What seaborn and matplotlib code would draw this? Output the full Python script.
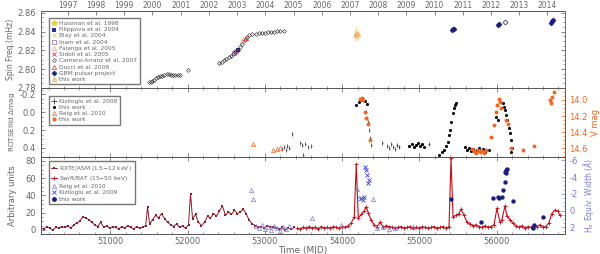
import numpy as np
import pandas as pd
import seaborn as sns
import matplotlib.pyplot as plt

# ---------------- data ----------------
# top panel: spin frequency (mHz)
huisman_t, huisman_f = [50565], [2.7862]
camero_t = [51495, 51520, 51545, 51570, 51595, 51620, 51645, 51670, 51700, 51728,
            51755, 51780, 51810, 51840, 51870, 51896, 52000,
            52413, 52440, 52470, 52500, 52530, 52560, 52590, 52620, 52650, 52680,
            52710, 52740, 52770, 52800, 52840, 52880, 52920, 52960, 53000, 53040,
            53080, 53120, 53160, 53200, 53252]
camero_f = [2.7860, 2.7868, 2.7877, 2.7888, 2.7900, 2.7912, 2.7922, 2.7930, 2.7938, 2.7943,
            2.7944, 2.7942, 2.7940, 2.7937, 2.7934, 2.7933, 2.7995,
            2.8067, 2.8080, 2.8095, 2.8110, 2.8125, 2.8140, 2.8158, 2.8180, 2.8205, 2.8235,
            2.8270, 2.8310, 2.8340, 2.8362, 2.8370, 2.8376, 2.8382, 2.8386, 2.8390, 2.8393,
            2.8396, 2.8399, 2.8401, 2.8403, 2.8405]
filippova_t, filippova_f = [52650], [2.8200]
blay_t, blay_f = [52420], [2.8068]
inam_t, inam_f = [52600], [2.8168]
falanga_t, falanga_f = [52705, 52720], [2.8300, 2.8318]
sidoli_t, sidoli_f = [52615, 52630], [2.8178, 2.8190]
ducci_t, ducci_f = [52760], [2.8335]
gbm_t = [55420, 55436, 55450, 56020, 56035, 56700, 56720, 56735]
gbm_f = [2.8420, 2.8426, 2.8432, 2.8470, 2.8480, 2.8495, 2.8510, 2.8528]
gbm_open_t, gbm_open_f = [56108], [2.8497]
tw_spin_t = [54170, 54185, 54200]
tw_spin_f = [2.8360, 2.8380, 2.8370]
tw_spin_err = [0.006, 0.008, 0.006]

# middle panel: ROTSE delta mag (left) and V mag (right)
kiz_t = [53227, 53253, 53278, 53291, 53317, 53356, 53459, 53485, 53498, 53524, 53562, 53601,
         54312, 54325, 54338, 54351, 54364, 54377, 54519,
         54583, 54609, 54635, 54661, 54687, 54712, 54738, 55126]
kiz_m = [0.41, 0.389, 0.42, 0.378, 0.40, 0.244, 0.344, 0.367, 0.478, 0.356, 0.389, 0.378,
         0.0, 0.067, 0.111, 0.20, 0.289, 0.367, 0.344,
         0.378, 0.40, 0.356, 0.389, 0.411, 0.367, 0.389, 0.356]
rotse_t = [54183, 54221, 54260, 54299, 54325,
           54867, 54906, 54932, 54958, 54984, 55010, 55035, 55061,
           55255, 55294, 55319, 55345, 55371, 55384, 55397, 55410, 55436, 55449, 55462, 55475,
           55591, 55617, 55643, 55668, 55694, 55720, 55746, 55772, 55798, 55824, 55850, 55901,
           55992, 56017, 56082, 56095, 56108, 56121, 56134, 56159, 56172, 56185, 56198, 56190]
rotse_m = [-0.078, -0.111, -0.133, -0.122, -0.089,
           0.378, 0.356, 0.389, 0.367, 0.344, 0.378, 0.356, 0.389,
           0.478, 0.444, 0.422, 0.378, 0.333, 0.256, 0.20, 0.111, 0.011, -0.044, -0.078, -0.10,
           0.389, 0.422, 0.40, 0.433, 0.411, 0.444, 0.422, 0.40, 0.433, 0.411, 0.444, 0.422,
           0.06, 0.089, -0.10, -0.056, -0.022, 0.033, 0.089, 0.178, 0.233, 0.311, 0.40, 0.444]
reig_v_t = [52852, 53110, 53162, 53201]
reig_v = [14.55, 14.625, 14.61, 14.60]
tw_v_t = [54234, 54260, 54273, 54299, 54312, 54338, 54364,
          55681, 55707, 55733, 55759, 55785, 55811, 55837, 55863,
          55927, 55966, 55992, 56004, 56030, 56043, 56056,
          56121, 56146, 56185, 56340, 56482,
          56689, 56702, 56715, 56741]
tw_v = [13.99, 13.975, 14.0, 14.15, 14.225, 14.30, 14.50,
        14.61, 14.64, 14.66, 14.625, 14.65, 14.64, 14.66, 14.625,
        14.46, 14.31, 14.15, 14.06, 13.99, 14.03, 14.10,
        14.25, 14.30, 14.60, 14.625, 14.575,
        14.0, 14.04, 13.96, 13.90]

# bottom panel: X-ray light curves (left) and H-alpha EW (right)
xray_t = [50100, 50139, 50178, 50216, 50255, 50294, 50333, 50371, 50410, 50449, 50488, 50526,
          50565, 50604, 50643, 50681, 50720, 50759, 50798, 50836, 50875, 50914, 50953, 50991,
          51030, 51069, 51108, 51147, 51185, 51224, 51263, 51302, 51340, 51379, 51418, 51457,
          51482, 51508, 51547, 51586, 51625, 51663, 51702, 51741, 51780, 51818, 51857, 51896,
          51935, 51973, 52012, 52038, 52064, 52103, 52141, 52180, 52219, 52258, 52296, 52335,
          52374, 52413, 52451, 52490, 52529, 52568, 52606, 52645, 52684, 52723, 52762, 52800,
          52839, 52878, 52917, 52955, 52994, 53033, 53072, 53110, 53149, 53188, 53227, 53265,
          53304, 53343, 53382]
xray_c = [3, 1, 4, 2, 0, 3, 2, 4, 3, 5, 2, 6,
          8, 10, 15, 14, 12, 9, 6, 4, 9, 3, 5, 2,
          4, 3, 1, 4, 2, 5, 3, 1, 4, 2, 3, 5,
          27, 7, 12, 17, 14, 19, 13, 9, 6, 4, 7, 3,
          5, 2, 6, 42, 13, 18, 9, 5, 9, 16, 14, 19,
          16, 22, 28, 17, 21, 18, 23, 19, 21, 24, 18, 11,
          7, 5, 3, 4, 2, 5, 3, 4, 2, 1, 3, 0,
          2, 1, 3]
bat_t = [53420, 53459, 53498, 53537, 53575, 53614, 53653, 53692, 53730, 53769, 53808, 53847,
         53886, 53924, 53963, 54002, 54041, 54079, 54118, 54157, 54183, 54209, 54247, 54286,
         54312, 54338, 54377, 54415, 54454, 54493, 54532, 54570, 54609, 54648, 54687, 54725,
         54764, 54803, 54842, 54880, 54919, 54958, 54997, 55035, 55074, 55113, 55152, 55190,
         55229, 55268, 55307, 55345, 55384, 55410, 55436, 55475, 55513, 55539, 55578, 55617,
         55656, 55694, 55733, 55772, 55811, 55850, 55888, 55927, 55966, 56004, 56043, 56069,
         56108, 56134, 56172, 56211, 56250, 56289, 56327, 56366, 56405, 56444, 56482, 56521,
         56560, 56599, 56638, 56676, 56715, 56754, 56792, 56818]
bat_c = [2, 1, 3, 2, 4, 2, 3, 1, 4, 2, 3, 2,
         4, 3, 2, 4, 3, 5, 8, 15, 76, 14, 18, 22,
         27, 20, 11, 6, 4, 9, 3, 5, 4, 3, 2, 3,
         4, 2, 3, 4, 2, 3, 2, 4, 3, 2, 3, 4,
         2, 3, 4, 2, 4, 83, 15, 17, 19, 24, 17, 9,
         7, 5, 6, 4, 3, 5, 3, 4, 6, 25, 9, 12,
         28, 16, 12, 8, 5, 3, 5, 2, 4, 3, 5, 4,
         6, 3, 4, 8, 19, 23, 22, 17]
reig_ew_t = [52826, 52852, 52891, 52930, 52968, 53007, 53046, 53085, 53123, 53162, 53201,
             53240, 53278, 53317, 53614, 53989, 54196, 54221, 54403, 54454, 54532, 54609,
             54687, 54919]
reig_ew = [-2.4, -1.36, 1.86, 2.1, 1.74, 2.2, 1.98, 2.33, 1.86, 2.1, 2.45,
           1.98, 2.2, 1.86, 0.9, 1.74, -2.55, -1.48, -1.36, 2.1, 1.98, 2.2,
           2.1, 1.98]
kiz_ew_t = [54247, 54273, 54286, 54299, 54312, 54325, 54338, 54351]
kiz_ew = [-1.48, -1.24, -1.6, -5.17, -4.8, -4.2, -3.26, -3.6]
tw_ew_t = [55410, 55798, 55953, 56017, 56030, 56069, 56082, 56108, 56121, 56121, 56134,
           56108, 56211, 56482, 56469, 56599]
tw_ew = [-1.36, 1.38, -1.48, -1.6, -1.48, -1.6, -2.43, -3.38, -4.45, -4.8, -4.93,
         -4.57, -1.12, 1.74, 2.1, 0.79]

years = list(range(1997, 2015))
year_mjd = [50449, 50814, 51179, 51544, 51910, 52275, 52640, 53005, 53371, 53736,
            54101, 54466, 54832, 55197, 55562, 55927, 56293, 56658]

# ---------------- style ----------------
sns.set_style("ticks")
plt.rcParams['font.family'] = ['DejaVu Sans']
gray = '#666666'
plt.rcParams.update({'axes.edgecolor': '#555555', 'axes.linewidth': 0.6,
                     'xtick.color': '#555555', 'ytick.color': '#555555',
                     'xtick.labelcolor': gray, 'ytick.labelcolor': gray,
                     'xtick.direction': 'in', 'ytick.direction': 'in',
                     'xtick.major.size': 3, 'ytick.major.size': 3,
                     'xtick.minor.size': 1.5, 'ytick.minor.size': 1.5,
                     'xtick.major.width': 0.5, 'ytick.major.width': 0.5,
                     'xtick.minor.width': 0.4, 'ytick.minor.width': 0.4,
                     'xtick.labelsize': 6, 'ytick.labelsize': 6})
orange = '#f26522'
blue = '#7b7bd6'
navy = '#1c1c80'
asm_red = '#8c1c2c'
bat_red = '#c0101c'

fig = plt.figure(figsize=(6, 2.54), dpi=100)
ax1 = fig.add_axes([0.068, 0.654, 0.873, 0.303])
ax2 = fig.add_axes([0.068, 0.382, 0.873, 0.272], sharex=ax1)
ax3 = fig.add_axes([0.068, 0.079, 0.873, 0.303], sharex=ax1)
leg_kw = dict(loc='upper left', fontsize=4.2, labelspacing=0.2, handlelength=1.0,
              handletextpad=0.4, borderpad=0.4, fancybox=False, edgecolor='#777777',
              framealpha=1, labelcolor=gray)

# ---- top panel ----
ax1.plot(huisman_t, huisman_f, '*', color='#e6d23c', ms=4, label='Huisman et al. 1998')
sns.scatterplot(x=filippova_t, y=filippova_f, ax=ax1, marker='s', color='#2b2b9c', s=6,
                linewidth=0, label='Filippova et al. 2004')
ax1.plot(blay_t, blay_f, 'x', color='#e6d23c', ms=3, mew=0.6, label='Blay et al. 2004')
ax1.plot(inam_t, inam_f, 's', mfc='none', mec='#7a6fb8', ms=3, mew=0.5, label='Inam et al. 2004')
ax1.plot(falanga_t, falanga_f, '^', mfc='none', mec='#f0a080', ms=3, mew=0.5,
         label='Falanga et al. 2005')
ax1.plot(sidoli_t, sidoli_f, 'x', color='#c8325a', ms=3, mew=0.6, label='Sidoli et al. 2005')
ax1.plot(camero_t, camero_f, 'D', mfc='none', mec='#222222', ms=2, mew=0.4, ls='none',
         label='Camero-Arranz et al. 2007')
ax1.plot(ducci_t, ducci_f, '^', mfc='none', mec='#e03030', ms=3, mew=0.5, label='Ducci et al. 2008')
ax1.plot(gbm_t, gbm_f, 'D', color=navy, ms=2.5, mew=0.5, ls='none', label='GBM pulsar project')
ax1.plot(gbm_open_t, gbm_open_f, 'D', mfc='none', mec=navy, ms=2.5, mew=0.5)
ax1.errorbar(tw_spin_t, tw_spin_f, yerr=tw_spin_err, fmt='^', mfc='none', mec='#f5a040',
             ecolor='#f8c890', ms=3, mew=0.5, elinewidth=0.5, label='this work')
ax1.set_ylim(2.78, 2.862)
ax1.set_yticks([2.78, 2.80, 2.82, 2.84, 2.86])
ax1.set_yticklabels(['2.78', '2.80', '2.82', '2.84', '2.86'])
ax1.yaxis.set_minor_locator(plt.MultipleLocator(0.005))
ax1.set_ylabel('Spin Freq.(mHz)', fontsize=5.5, color=gray, labelpad=2)
ax1.tick_params(axis='x', which='both', labelbottom=False, top=False)
ax1.tick_params(axis='y', which='both', right=True)
ax1.legend(bbox_to_anchor=(0.01, 0.94), **leg_kw)
top = ax1.secondary_xaxis('top')
top.set_xticks(year_mjd)
top.set_xticklabels([str(y) for y in years])
top.tick_params(axis='x', direction='in', length=3, width=0.5, pad=1, labelsize=5.5)

# ---- middle panel ----
ax2.errorbar(kiz_t, kiz_m, yerr=0.02, xerr=8, fmt='none', ecolor='#222222', elinewidth=0.5,
             label='Kiziloglu et al. 2008')
sns.scatterplot(x=rotse_t, y=rotse_m, ax=ax2, color='black', s=5, marker='o', linewidth=0,
                label='this work')
ax2.plot([], [], '^', mfc='none', mec=orange, ms=3, mew=0.5, label='Reig et al. 2010')
ax2.plot([], [], 'o', color=orange, ms=2, label='this work')
ax2.set_ylim(0.5, -0.27)
ax2.set_yticks([-0.2, 0.0, 0.2, 0.4])
ax2.set_yticklabels(['-0.2', '0.0', '0.2', '0.4'])
ax2.yaxis.set_minor_locator(plt.MultipleLocator(0.05))
ax2.set_ylabel('ROTSEIIId $\\Delta$mag', fontsize=5.2, color=gray, labelpad=2)
ax2.tick_params(axis='x', which='both', labelbottom=False, top=True)
h, l = ax2.get_legend_handles_labels()
order = [l.index('Kiziloglu et al. 2008')] + [i for i in range(len(l)) if l[i] != 'Kiziloglu et al. 2008']
ax2.legend([h[i] for i in order], [l[i] for i in order], bbox_to_anchor=(0.01, 0.92), **leg_kw)
ax2r = ax2.twinx()
ax2r.plot(reig_v_t, reig_v, '^', mfc='none', mec=orange, ms=3, mew=0.5, ls='none')
sns.scatterplot(x=tw_v_t, y=tw_v, ax=ax2r, color=orange, s=8, marker='o', linewidth=0)
ax2r.set_ylim(14.71, 13.85)
ax2r.set_yticks([14.0, 14.2, 14.4, 14.6])
ax2r.set_yticklabels(['14.0', '14.2', '14.4', '14.6'])
ax2r.yaxis.set_minor_locator(plt.MultipleLocator(0.05))
ax2r.tick_params(axis='y', which='both', colors=orange, labelcolor=orange, direction='in')
ax2r.set_ylabel('V mag', fontsize=6, color=orange, labelpad=2)

# ---- bottom panel ----
sns.lineplot(x=xray_t, y=xray_c, ax=ax3, color=asm_red, lw=0.7, marker='s', ms=1.6,
             mew=0, estimator=None, sort=False, label='RXTE/ASM (1.5$-$12 keV)')
sns.lineplot(x=bat_t, y=bat_c, ax=ax3, color=bat_red, lw=0.8, marker='+', ms=2.5,
             mew=0.6, mec=bat_red, estimator=None, sort=False,
             label='Swift/BAT (15$-$50 keV)')
ax3.plot([], [], '^', mfc='none', mec=blue, ms=3, mew=0.5, label='Reig et al. 2010')
ax3.plot([], [], 'x', color='#3b3bd8', ms=3, mew=0.6, label='Kiziloglu et al. 2009')
ax3.plot([], [], 'o', color=navy, ms=2.5, label='this work')
ax3.set_ylim(-4.6, 84.6)
ax3.set_yticks([0, 20, 40, 60, 80])
ax3.yaxis.set_minor_locator(plt.MultipleLocator(5))
ax3.set_ylabel('Arbitrary units', fontsize=6, color=gray, labelpad=6)
ax3.set_xlabel('Time (MJD)', fontsize=6.5, color=gray, labelpad=0)
ax3.set_xlim(50100, 56880)
ax3.set_xticks([51000, 52000, 53000, 54000, 55000, 56000])
ax3.set_xticklabels(['51000', '52000', '53000', '54000', '55000', '56000'])
ax3.xaxis.set_minor_locator(plt.MultipleLocator(200))
ax3.tick_params(axis='x', which='both', top=True, pad=2)
ax3.legend(bbox_to_anchor=(0.01, 0.98), **leg_kw)
ax3r = ax3.twinx()
ax3r.plot(reig_ew_t, reig_ew, '^', mfc='none', mec=blue, ms=3, mew=0.5, ls='none')
ax3r.plot(kiz_ew_t, kiz_ew, 'x', color='#3b3bd8', ms=3, mew=0.6, ls='none')
sns.scatterplot(x=tw_ew_t, y=tw_ew, ax=ax3r, color=navy, s=10, marker='o', linewidth=0)
ax3r.set_ylim(2.8, -6.4)
ax3r.set_yticks([-6, -4, -2, 0, 2])
ax3r.set_yticklabels(['-6', '-4', '-2', '0', '2'])
ax3r.yaxis.set_minor_locator(plt.MultipleLocator(0.5))
ax3r.tick_params(axis='y', which='both', colors=blue, labelcolor=blue, direction='in')
ax3r.set_ylabel('H$_\\alpha$ Equiv. Width ($\\AA$)', fontsize=5.5, color=blue, labelpad=2)

for a in (ax1, ax2, ax3, ax2r, ax3r):
    a.set_xlim(50100, 56880)

fig.savefig('out.png', dpi=100)
